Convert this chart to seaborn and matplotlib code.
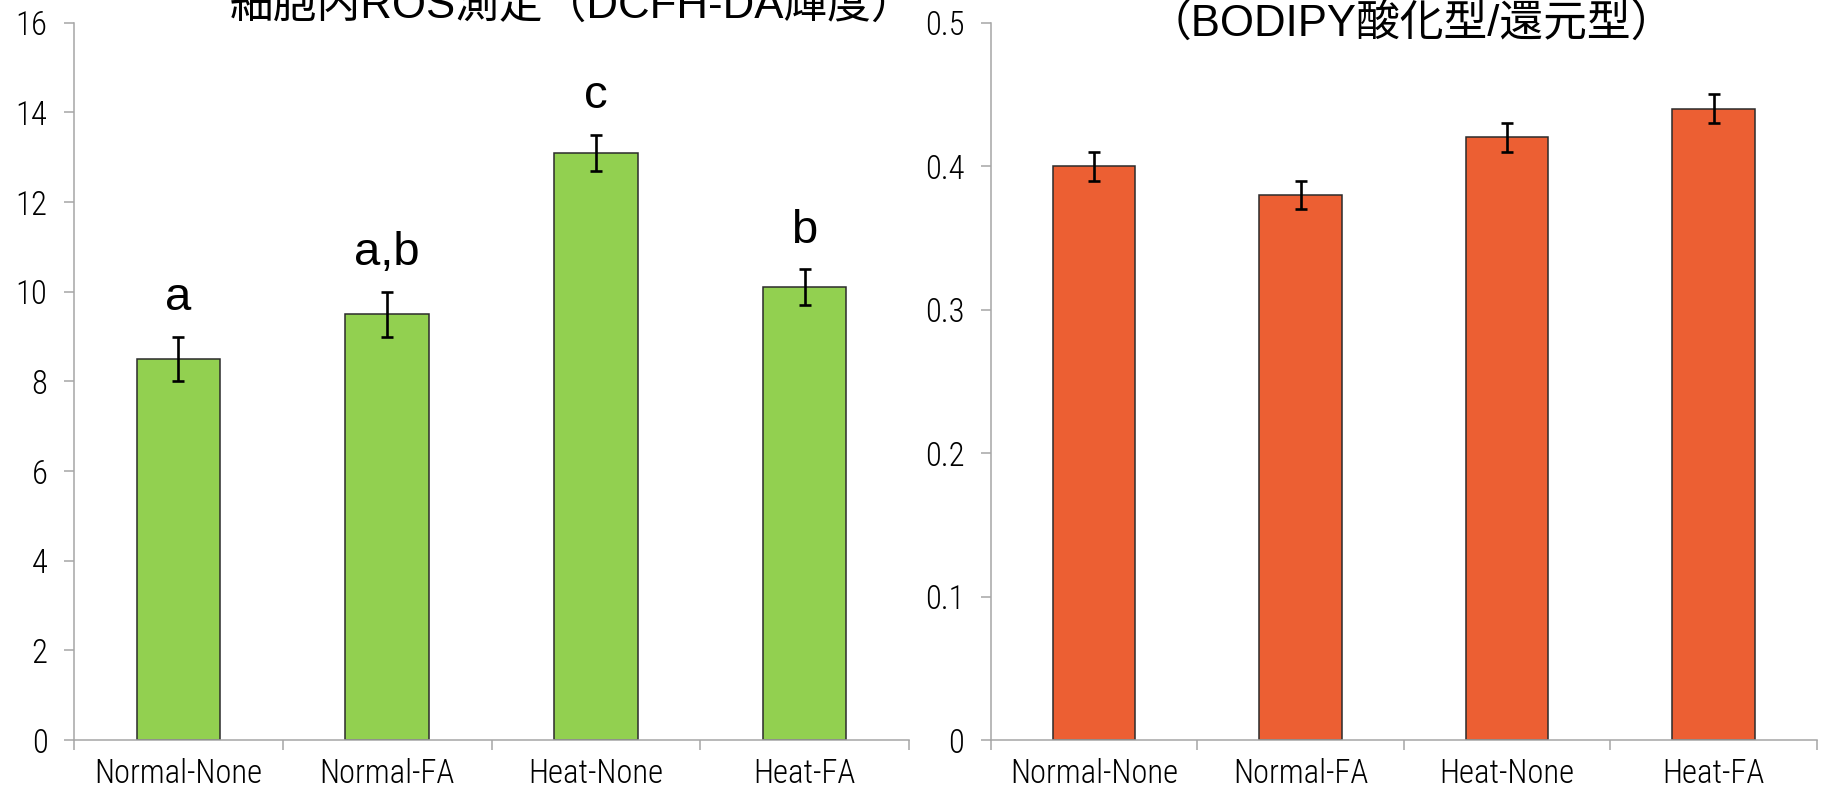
import numpy as np
import pandas as pd
import matplotlib
matplotlib.use("Agg")
import matplotlib.pyplot as plt
from matplotlib import font_manager
import seaborn as sns

# Data
groups = ["Normal-None", "Normal-FA", "Heat-None", "Heat-FA"]
ros_mean = [8.5, 9.5, 13.1, 10.1]
ros_err = [0.5, 0.5, 0.4, 0.4]
ros_letters = ["a", "a,b", "c", "b"]
bodipy_mean = [0.40, 0.38, 0.42, 0.44]
bodipy_err = [0.01, 0.01, 0.01, 0.01]

ros_title = "細胞内ROS測定（DCFH-DA輝度）"
bodipy_title = "（BODIPY酸化型/還元型）"

ros_ticks = [0, 2, 4, 6, 8, 10, 12, 14, 16]
bodipy_ticks = [0, 0.1, 0.2, 0.3, 0.4, 0.5]
bodipy_ticklabels = ["0", "0.1", "0.2", "0.3", "0.4", "0.5"]

sns.set_theme(style="white")
plt.rcParams["font.family"] = ["Liberation Sans", "Noto Sans CJK JP", "DejaVu Sans"]

# narrow grotesque face for the axis tick labels
installed = {f.name for f in font_manager.fontManager.ttflist}
TICK_FONT, TICK_SIZE, TICK_WEIGHT = "Liberation Sans", 20, "normal"
for name in ("Liberation Sans Narrow", "Arial Narrow", "Roboto Condensed",
             "Archivo Narrow", "PT Sans Narrow"):
    if name in installed:
        TICK_FONT, TICK_SIZE, TICK_WEIGHT = name, 23.5, "light"
        break

AXIS_GRAY = "#a6a6a6"
GREEN = "#92d050"
ORANGE = "#ec5f33"

fig = plt.figure(figsize=(18.33, 7.94), dpi=100)
ax1 = fig.add_axes([0.0404, 0.068, 0.4555, 0.9034])
ax2 = fig.add_axes([0.5406, 0.068, 0.4506, 0.9034])


def draw_panel(ax, means, errs, color, ymax, yticks, yticklabels):
    df = pd.DataFrame({"group": groups, "value": means})
    sns.barplot(data=df, x="group", y="value", ax=ax, color=color,
                width=0.4, edgecolor="#2b2b2b", linewidth=1.1,
                saturation=1, errorbar=None)
    ax.errorbar(np.arange(len(groups)), means, yerr=errs, fmt="none",
                ecolor="black", elinewidth=1.9, capsize=4, capthick=1.9,
                zorder=5)
    ax.set_xlim(-0.5, len(groups) - 0.5)
    ax.set_ylim(0, ymax)
    ax.set_xlabel("")
    ax.set_ylabel("")
    for side in ("top", "right"):
        ax.spines[side].set_visible(False)
    for side in ("left", "bottom"):
        ax.spines[side].set_color(AXIS_GRAY)
        ax.spines[side].set_linewidth(1.1)
    ax.set_yticks(yticks)
    ax.set_yticklabels(yticklabels, fontfamily=TICK_FONT, fontweight=TICK_WEIGHT)
    ax.tick_params(axis="y", direction="out", length=7.2, width=1.1,
                   color=AXIS_GRAY, labelsize=TICK_SIZE, pad=12, left=True)
    # category labels at centres, tick marks at the category boundaries
    ax.set_xticks(np.arange(len(groups)))
    ax.set_xticklabels(groups, fontfamily=TICK_FONT, fontweight=TICK_WEIGHT)
    ax.set_xticks(np.arange(-0.5, len(groups)), minor=True)
    ax.tick_params(axis="x", which="major", length=0, labelsize=TICK_SIZE, pad=13)
    ax.tick_params(axis="x", which="minor", direction="out", length=7.2,
                   width=1.1, color=AXIS_GRAY, bottom=True)
    for lab in ax.get_xticklabels() + ax.get_yticklabels():
        lab.set_color("black")


draw_panel(ax1, ros_mean, ros_err, GREEN, 16, ros_ticks,
           [str(t) for t in ros_ticks])
draw_panel(ax2, bodipy_mean, bodipy_err, ORANGE, 0.5, bodipy_ticks,
           bodipy_ticklabels)

# significance letters above the error bars
for i, (m, e, lab) in enumerate(zip(ros_mean, ros_err, ros_letters)):
    ax1.annotate(lab, xy=(i, m + e), xytext=(0, 12), textcoords="offset points",
                 ha="center", va="bottom", fontsize=34, color="black")

fig.text(0.3126, 0.977, ros_title, ha="center", va="baseline",
         fontsize=31.5, color="black")
fig.text(0.770, 0.955, bodipy_title, ha="center", va="baseline",
         fontsize=31.5, color="black")

fig.savefig("out.png", dpi=100, facecolor="white")
